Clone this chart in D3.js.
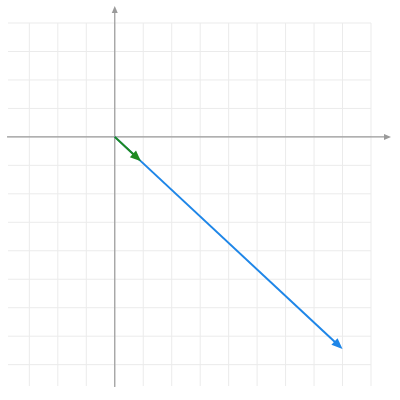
<!DOCTYPE html>
<html>
<head>
<meta charset="utf-8">
<script src="https://cdn.jsdelivr.net/npm/d3@7"></script>
<style>
  html, body { margin: 0; padding: 0; background: #fff; }
</style>
</head>
<body>
<script>
// Data //////////////////////////////////////////////////////////////////
const xDomain = [-3.75, 9];
const yDomain = [-8.75, 4];
const xGridTicks = [-3, -2, -1, 0, 1, 2, 3, 4, 5, 6, 7, 8, 9];
const yGridTicks = [-8, -7, -6, -5, -4, -3, -2, -1, 0, 1, 2, 3, 4];
const vectorNames = ["scaled", "unit"];
const vectorX = [8, 0.92];
const vectorY = [-7.45, -0.86];
const vectorColors = ["#1e86e8", "#1f8a1f"];

const width = 400;
const height = 400;

const svg = d3
  .select("body")
  .append("svg")
  .attr("width", width)
  .attr("height", height);

const x = d3.scaleLinear().domain(xDomain).range([8, 371]);
const y = d3.scaleLinear().domain(yDomain).range([386, 23]);

drawGrid(svg.append("g"));
drawAxes(svg.append("g"));
drawVectors(svg.append("g"));

// Grid ////////////////////////////////////////////////////////////////////

function drawGrid(root) {
  root
    .selectAll("line.vx")
    .data(xGridTicks)
    .join("line")
    .attr("class", "vx")
    .attr("x1", (d) => x(d))
    .attr("x2", (d) => x(d))
    .attr("y1", y(yDomain[1]))
    .attr("y2", y(yDomain[0]))
    .attr("stroke", "#ebebeb")
    .attr("stroke-width", 1);

  root
    .selectAll("line.hy")
    .data(yGridTicks)
    .join("line")
    .attr("class", "hy")
    .attr("x1", x(xDomain[0]))
    .attr("x2", x(xDomain[1]))
    .attr("y1", (d) => y(d))
    .attr("y2", (d) => y(d))
    .attr("stroke", "#ebebeb")
    .attr("stroke-width", 1);
}

// Axes ////////////////////////////////////////////////////////////////////

function drawAxes(root) {
  const x0 = x(0);
  const y0 = y(0);
  const axisColor = "#9a9a9a";

  root
    .append("line")
    .attr("x1", 7)
    .attr("x2", 386)
    .attr("y1", y0)
    .attr("y2", y0)
    .attr("stroke", axisColor)
    .attr("stroke-width", 1.2);

  root
    .append("path")
    .attr("d", `M391,${y0} L384,${y0 - 3} L384,${y0 + 3} Z`)
    .attr("fill", axisColor);

  root
    .append("line")
    .attr("x1", x0)
    .attr("x2", x0)
    .attr("y1", 387)
    .attr("y2", 12)
    .attr("stroke", axisColor)
    .attr("stroke-width", 1.2);

  root
    .append("path")
    .attr("d", `M${x0},6 L${x0 - 3},13 L${x0 + 3},13 Z`)
    .attr("fill", axisColor);
}

// Vectors /////////////////////////////////////////////////////////////////

function drawVectors(root) {
  const headLength = 11;
  const headHalf = 4.5;

  vectorNames.forEach((name, i) => {
    const sx = x(0);
    const sy = y(0);
    const ex = x(vectorX[i]);
    const ey = y(vectorY[i]);
    const len = Math.hypot(ex - sx, ey - sy);
    const ux = (ex - sx) / len;
    const uy = (ey - sy) / len;
    const bx = ex - ux * headLength;
    const by = ey - uy * headLength;

    const g = root.append("g").attr("class", `vector-${name}`);

    g.append("line")
      .attr("x1", sx)
      .attr("y1", sy)
      .attr("x2", bx + ux * 1)
      .attr("y2", by + uy * 1)
      .attr("stroke", vectorColors[i])
      .attr("stroke-width", 2);

    g.append("path")
      .attr(
        "d",
        `M${ex},${ey} L${bx - uy * headHalf},${by + ux * headHalf} ` +
          `L${bx + uy * headHalf},${by - ux * headHalf} Z`
      )
      .attr("fill", vectorColors[i]);
  });
}
</script>
</body>
</html>
